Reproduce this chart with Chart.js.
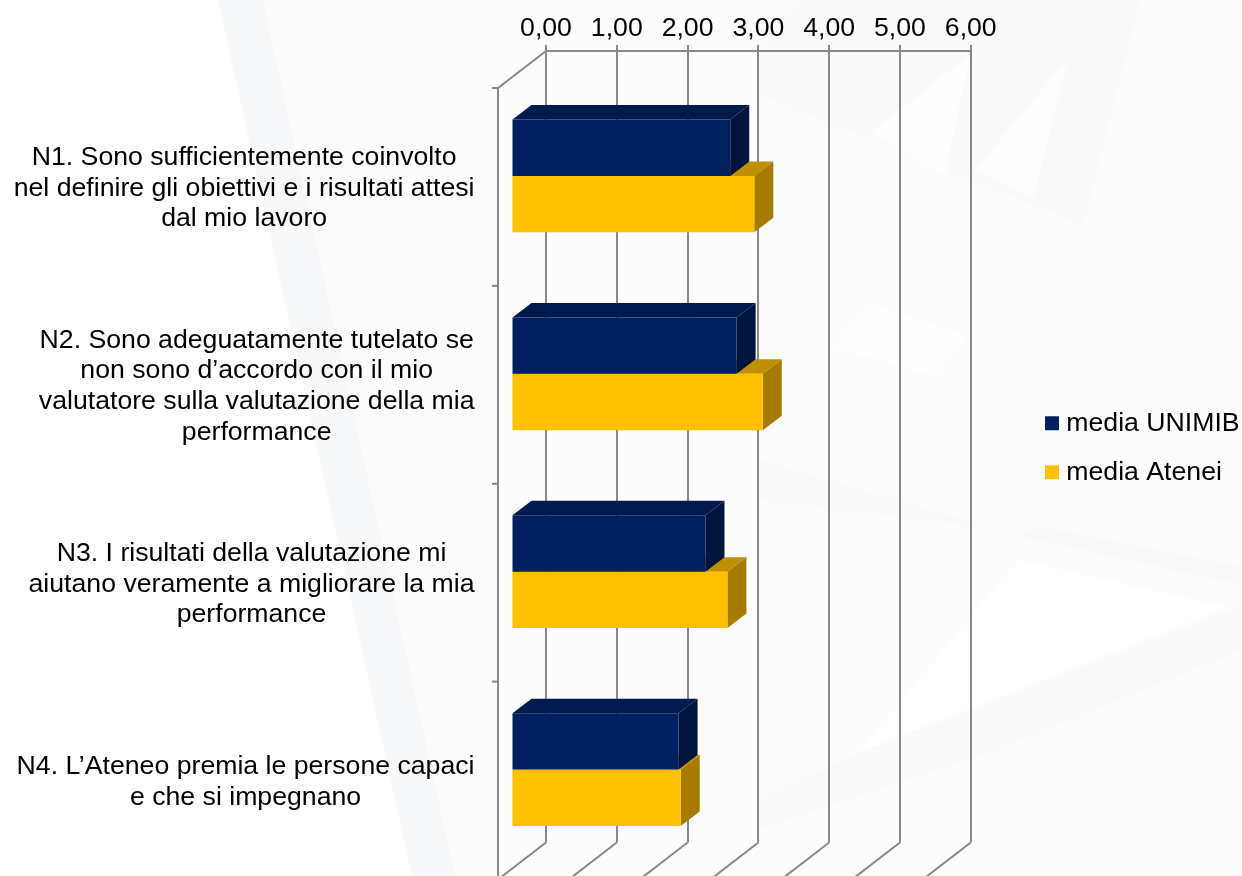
<!DOCTYPE html>
<html lang="it">
<head>
<meta charset="UTF-8">
<title>Valutazione della performance</title>
<style>
    html, body { margin: 0; padding: 0; background: #fff; overflow: hidden; }
    #wrap { position: relative; width: 1242px; height: 876px; }
    #bg { position: absolute; left: 0; top: 0; }
    canvas { position: absolute; left: 0; top: 0; }
</style>
<script src="https://cdn.jsdelivr.net/npm/chart.js"></script>
</head>
<body>
<div id="wrap">
    <!-- faint watermark behind the chart -->
    <svg id="bg" width="1242" height="876">
        <polygon points="263,0 1242,0 1242,876 455,876" fill="#fcfcfd"/>
        <polygon points="218,0 263,0 455,876 412,876" fill="#f7f8fa"/>
        <polygon points="800,0 1140,0 1083,225 760,95 760,60" fill="#fafafb"/>
        <polygon points="1067,60 975,170 1033,198" fill="#fefefe"/>
        <polygon points="870,133 970,55 945,175" fill="#fefefe"/>
        <polygon points="832,347 870,302 967,337 937,377" fill="#fefefe"/>
        <polygon points="1018,560 1227,607 857,753" fill="#ffffff"/>
        <polygon points="1242,607 1242,650 970,760 760,830 760,800 857,753" fill="#fafafb"/>
        <polygon points="1040,527 1242,567 1242,585 1020,536" fill="#f9f9fa"/>
        <polygon points="760,460 1000,530 960,525 760,500" fill="#fafafb"/>
    </svg>
    <canvas id="chart" width="1242" height="876"></canvas>
</div>
<script>
const categories = [
    ["N1. Sono sufficientemente coinvolto", "nel definire gli obiettivi e i risultati attesi", "dal mio lavoro"],
    ["N2. Sono adeguatamente tutelato se", "non sono d’accordo con il mio", "valutatore sulla valutazione della mia", "performance"],
    ["N3. I risultati della valutazione mi", "aiutano veramente a migliorare la mia", "performance"],
    ["N4. L’Ateneo premia le persone capaci", "e che si impegnano"]
];
const mediaUnimib = [3.09, 3.18, 2.74, 2.36];
const mediaAtenei = [3.43, 3.55, 3.05, 2.39];

const FONT = "'Liberation Sans', Arial, sans-serif";
const FONT_SIZE = 26.67;
const GRID = "#888888";

// depth of the 3d box, and where the bars sit inside it
const WALL_DX = -48, WALL_DY = 37;
const BAR_DX = -34.5, BAR_DY = 26;
const BOX_DX = 19, BOX_DY = -14.5;

const faces = [
    { top: "#001a4d", side: "#00143d" },
    { top: "#bf9000", side: "#a67c00" }
];

function line(ctx, x1, y1, x2, y2) {
    ctx.beginPath();
    ctx.moveTo(x1, y1);
    ctx.lineTo(x2, y2);
    ctx.stroke();
}

function poly(ctx, pts, color) {
    ctx.fillStyle = color;
    ctx.beginPath();
    pts.forEach((p, i) => i ? ctx.lineTo(p[0], p[1]) : ctx.moveTo(p[0], p[1]));
    ctx.closePath();
    ctx.fill();
}

const box3d = {
    id: "box3d",
    afterLayout(chart) {
        // the legend sits further right than the layout would put it
        const lg = chart.legend;
        lg.left = 1028.5;
        lg.right = chart.width;
        lg.top += 20;
        lg.bottom += 20;
    },
    beforeDatasetsDraw(chart) {
        const { ctx, scales: { x, y }, chartArea: area } = chart;
        ctx.save();
        ctx.strokeStyle = GRID;
        ctx.lineWidth = 2;

        // floor lines and the left wall
        x.ticks.forEach(t => {
            const px = x.getPixelForValue(t.value);
            line(ctx, px, area.bottom, px + WALL_DX, area.bottom + WALL_DY);
        });
        const fx = area.left + WALL_DX;
        line(ctx, area.left, area.top, fx, area.top + WALL_DY);
        line(ctx, fx, area.top + WALL_DY, fx, area.bottom + WALL_DY);
        line(ctx, area.left, area.top, area.right, area.top);

        // tick marks on the front edge
        const band = (area.bottom - area.top) / categories.length;
        categories.forEach((c, i) => {
            const ty = area.top + WALL_DY + band * i;
            line(ctx, fx - 6, ty, fx, ty);
        });

        // category labels, each block centred on itself, right edge fixed
        ctx.fillStyle = "#000";
        ctx.font = FONT_SIZE + "px " + FONT;
        ctx.textAlign = "center";
        ctx.textBaseline = "middle";
        categories.forEach((lines, i) => {
            const widest = Math.max(...lines.map(s => ctx.measureText(s).width));
            const cx = 474.5 - widest / 2;
            const cy = y.getPixelForValue(i) + BAR_DY + 12.5;
            lines.forEach((s, j) => {
                ctx.fillText(s, cx, cy + (j - (lines.length - 1) / 2) * 30.6);
            });
        });
        ctx.restore();

        // bars are shifted forward from the back wall; restored in afterDatasetsDraw
        ctx.save();
        ctx.translate(BAR_DX, BAR_DY);
        [1, 0].forEach(di => {
            chart.getDatasetMeta(di).data.forEach(bar => {
                const top = bar.y - bar.height / 2, bot = bar.y + bar.height / 2;
                poly(ctx, [[bar.base, top], [bar.base + BOX_DX, top + BOX_DY],
                    [bar.x + BOX_DX, top + BOX_DY], [bar.x, top]], faces[di].top);
                poly(ctx, [[bar.x, top], [bar.x + BOX_DX, top + BOX_DY],
                    [bar.x + BOX_DX, bot + BOX_DY], [bar.x, bot]], faces[di].side);
            });
        });
    },
    afterDatasetsDraw(chart) {
        chart.ctx.restore();
    }
};

new Chart(document.getElementById("chart"), {
    type: "bar",
    data: {
        labels: categories.map(c => c[0].split(".")[0]),
        datasets: [
            { label: "media UNIMIB", data: mediaUnimib, backgroundColor: "#002060", clip: false },
            { label: "media Atenei", data: mediaAtenei, backgroundColor: "#ffc000", clip: false }
        ]
    },
    options: {
        indexAxis: "y",
        responsive: false,
        animation: false,
        layout: { padding: { left: 538, right: 127, top: 13, bottom: 33.5 } },
        datasets: { bar: { categoryPercentage: 0.57, barPercentage: 1, borderWidth: 0 } },
        scales: {
            x: {
                position: "top",
                min: 0,
                max: 6,
                ticks: {
                    stepSize: 1,
                    color: "#000",
                    padding: 0,
                    font: { family: FONT, size: FONT_SIZE },
                    maxRotation: 0,
                    callback: v => v.toFixed(2).replace(".", ",")
                },
                grid: { color: GRID, lineWidth: 2, tickLength: 6 },
                border: { display: false }
            },
            y: {
                ticks: { display: false },
                grid: { display: false },
                border: { display: false }
            }
        },
        plugins: {
            tooltip: { enabled: false },
            legend: {
                position: "right",
                labels: {
                    color: "#000",
                    font: { family: FONT, size: FONT_SIZE },
                    padding: 22.5,
                    boxWidth: 2,
                    boxHeight: 2,
                    generateLabels(chart) {
                        return chart.data.datasets.map((d, i) => ({
                            text: d.label,
                            fillStyle: d.backgroundColor,
                            strokeStyle: d.backgroundColor,
                            lineWidth: 12,
                            datasetIndex: i
                        }));
                    }
                }
            }
        }
    },
    plugins: [box3d]
});
</script>
</body>
</html>
